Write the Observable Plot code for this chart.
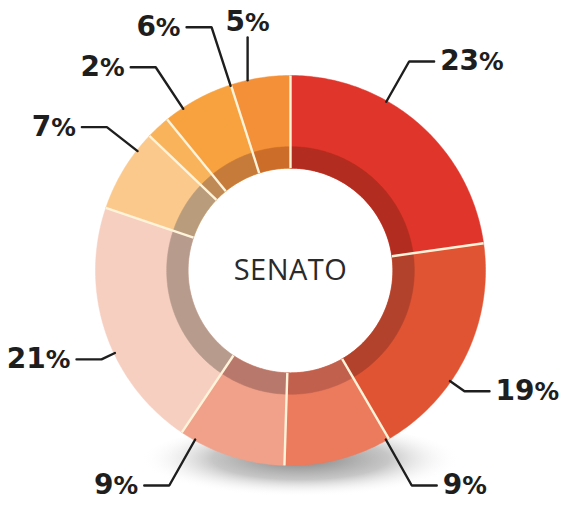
<!DOCTYPE html>
<html>
<head>
<meta charset="utf-8">
<script src="https://cdn.jsdelivr.net/npm/d3@7"></script>
<script src="https://cdn.jsdelivr.net/npm/@observablehq/plot@0.6"></script>
<style>
  html, body { margin: 0; padding: 0; background: #ffffff; }
  #chart svg { display: block; }
</style>
</head>
<body>
<div id="chart"></div>
<script>
// ---- data ----
const slices = ["s1", "s2", "s3", "s4", "s5", "s6", "s7", "s8", "s9"];
const values = [23, 19, 9, 9, 21, 7, 2, 6, 5];
const labels = ["23%", "19%", "9%", "9%", "21%", "7%", "2%", "6%", "5%"];
const outerColors = ["#e0352a", "#e15433", "#ec7a5c", "#f1a189", "#f6cfc0", "#fcc98c", "#f9b35a", "#f8a23f", "#f49038"];
const innerColors = ["#b22c1f", "#b2422b", "#c0604d", "#b8786b", "#b79b8d", "#b99c7c", "#bf8a56", "#c67b3a", "#cc6e2a"];
const centerLabel = "SENATO";

// ---- geometry (data units: outer radius = 1) ----
const W = 565, H = 510, PX = 195;             // pixels per unit
const xDom = [-290 / PX, (W - 290) / PX];
const yDom = [-(H - 270) / PX, 270 / PX];
const rOuter = 1, rRing = 0.635, rHole = 0.525;

const pie = d3.pie().sort(null).value(d => d.value).startAngle(0).endAngle(2 * Math.PI);
const arcs = pie(slices.map((id, i) => ({id, value: values[i], label: labels[i], i})));

function arcPoly(a0, a1, r0, r1, id) {
  const pts = [];
  const n = Math.max(6, Math.ceil((a1 - a0) / 0.015));
  for (let k = 0; k <= n; k++) { const a = a0 + (a1 - a0) * k / n; pts.push({id, x: r0 * Math.sin(a), y: r0 * Math.cos(a)}); }
  for (let k = n; k >= 0; k--) { const a = a0 + (a1 - a0) * k / n; pts.push({id, x: r1 * Math.sin(a), y: r1 * Math.cos(a)}); }
  pts.push(pts[0]);
  return pts;
}

const outerPts = arcs.flatMap(a => arcPoly(a.startAngle, a.endAngle, rOuter, rHole, a.data.id));
const innerPts = arcs.flatMap(a => arcPoly(a.startAngle, a.endAngle, rRing, rHole, a.data.id + "_in"));
const borders = arcs.map(a => ({
  x1: rHole * Math.sin(a.startAngle), y1: rHole * Math.cos(a.startAngle),
  x2: rOuter * Math.sin(a.startAngle), y2: rOuter * Math.cos(a.startAngle)
}));

// shadow ellipse under the donut
const shadowPts = d3.range(0, 361, 3).map(t => {
  const a = t * Math.PI / 180;
  return {x: 10 / PX + (160 / PX) * Math.cos(a), y: -192 / PX + (38 / PX) * Math.sin(a)};
});

// ---- label layout ----
const rT = 1.42, gap = 6 / PX, lead = 25 / PX;
const xMin = xDom[0] + 6 / PX, xMax = xDom[1] - 6 / PX;
const yMax = yDom[1] - 22 / PX, yMin = -215 / PX;
const labelRows = [], leaderPts = [];
arcs.forEach(a => {
  const mid = (a.startAngle + a.endAngle) / 2;
  const s = Math.sin(mid), c = Math.cos(mid);
  const hw = ((a.data.label.length - 1) * 19.5 + 25) / 2 / PX;
  const id = a.data.id;
  if (Math.abs(s) < 0.2 && c > 0) {
    const tx = rT * s, ty = yMax;
    labelRows.push({text: a.data.label, x: tx, y: ty, anchor: "middle"});
    leaderPts.push({id, x: tx, y: Math.sqrt(1 - tx * tx) * rOuter}, {id, x: tx, y: ty - 15 / PX});
    return;
  }
  let tx = rT * s, ty = rT * c;
  const side = s >= 0 ? 1 : -1;
  if (ty < yMin) { ty = yMin; tx = side * Math.sqrt(rT * rT - ty * ty); }
  if (ty > yMax) { ty = yMax; tx = side * Math.sqrt(rT * rT - ty * ty); }
  if (side > 0) tx = Math.min(tx, xMax - hw); else tx = Math.max(tx, xMin + hw);
  const hEnd = tx - side * (hw + gap);
  const ex = hEnd - side * lead, ey = ty;
  const ang = Math.atan2(ex, ey);
  leaderPts.push(
    {id, x: 0.995 * Math.sin(ang), y: 0.995 * Math.cos(ang)},
    {id, x: ex, y: ey},
    {id, x: hEnd, y: ty}
  );
  labelRows.push({text: a.data.label, x: tx - side * hw, y: ty, anchor: side > 0 ? "start" : "end"});
});

const labelFont = {fontFamily: "DejaVu Sans", fontWeight: "bold", fontSize: 28, fill: "#1e1e1e"};

const chart = Plot.plot({
  width: W, height: H, margin: 0,
  x: {domain: xDom, axis: null},
  y: {domain: yDom, axis: null},
  color: {type: "ordinal", domain: [...slices, ...slices.map(d => d + "_in")], range: [...outerColors, ...innerColors]},
  style: {background: "#ffffff", overflow: "visible"},
  marks: [
    Plot.line(shadowPts, {x: "x", y: "y", fill: "#808081", stroke: null}),
    Plot.line(outerPts, {x: "x", y: "y", z: "id", fill: "id", stroke: "id", strokeWidth: 0.5}),
    Plot.line(innerPts, {x: "x", y: "y", z: "id", fill: "id", stroke: "id", strokeWidth: 0.5}),
    Plot.link(borders, {x1: "x1", y1: "y1", x2: "x2", y2: "y2", stroke: "#fff3da", strokeWidth: 2.4}),
    Plot.line(leaderPts, {x: "x", y: "y", z: "id", stroke: "#1e1e1e", strokeWidth: 2.4, strokeLinejoin: "miter"}),
    Plot.text(labelRows.filter(d => d.anchor === "start"), {x: "x", y: "y", text: "text", textAnchor: "start", ...labelFont}),
    Plot.text(labelRows.filter(d => d.anchor === "end"), {x: "x", y: "y", text: "text", textAnchor: "end", ...labelFont}),
    Plot.text(labelRows.filter(d => d.anchor === "middle"), {x: "x", y: "y", text: "text", textAnchor: "middle", ...labelFont}),
    Plot.text([centerLabel], {x: () => 0, y: () => 0, text: d => d, fontFamily: "Open Sans", fontSize: 29, fill: "#2a2a2a", textAnchor: "middle"})
  ]
});

// shadow gradient
const svg = d3.select(chart);
const defs = svg.insert("defs", ":first-child");
const grad = defs.append("radialGradient").attr("id", "donutShadow").attr("cx", "50%").attr("cy", "45%").attr("r", "50%");
grad.append("stop").attr("offset", "0%").attr("stop-color", "#7a7a7a").attr("stop-opacity", 0.95);
grad.append("stop").attr("offset", "55%").attr("stop-color", "#a8a8a8").attr("stop-opacity", 0.65);
grad.append("stop").attr("offset", "100%").attr("stop-color", "#ffffff").attr("stop-opacity", 0);
svg.selectAll('[fill="#808081"]').attr("fill", "url(#donutShadow)");

// smaller percent sign
svg.selectAll("text").each(function() {
  const t = this.textContent;
  if (/^\d+%$/.test(t)) {
    this.textContent = t.slice(0, -1);
    d3.select(this).append("tspan").attr("font-size", "0.88em").text("%");
  }
});
svg.selectAll("text").filter(function() { return this.textContent === centerLabel; }).attr("letter-spacing", "0.5px");

document.getElementById("chart").appendChild(chart);
</script>
</body>
</html>
